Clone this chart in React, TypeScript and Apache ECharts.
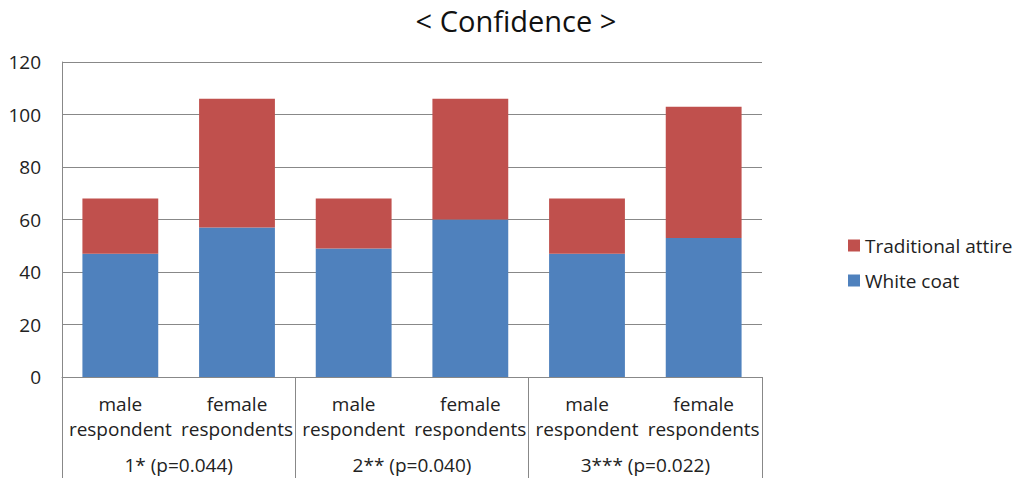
import React, { useEffect, useRef } from "react";
import * as echarts from "echarts";

const categories = [
  "male\nrespondent",
  "female\nrespondents",
  "male\nrespondent",
  "female\nrespondents",
  "male\nrespondent",
  "female\nrespondents",
];
const groups = ["1* (p=0.044)", "2** (p=0.040)", "3*** (p=0.022)"];
const whiteCoat = [47, 57, 49, 60, 47, 53];
const traditionalAttire = [21, 49, 19, 46, 21, 50];
const yTicks = { min: 0, max: 120, interval: 20 };

const FONT = "'Open Sans', Lato, sans-serif";

export default function App() {
  const ref = useRef<HTMLDivElement>(null);
  useEffect(() => {
    document.body.style.margin = "0";
    const chart = echarts.init(ref.current!, undefined, { renderer: "svg" });
    chart.setOption({
      animation: false,
      backgroundColor: "#ffffff",
      title: {
        text: "< Confidence >",
        left: 511,
        textAlign: "center",
        top: 1,
        textStyle: { fontFamily: FONT, fontSize: 29, fontWeight: "normal", color: "#111" },
      },
      legend: {
        data: ["Traditional attire", "White coat"],
        orient: "vertical",
        left: 843,
        top: 231,
        itemWidth: 12,
        itemHeight: 12,
        itemGap: 16,
        icon: "rect",
        textStyle: { fontFamily: FONT, fontSize: 19, color: "#222" },
      },
      grid: { left: 62, right: 258, top: 62, bottom: 101, containLabel: false },
      xAxis: [
        {
          type: "category",
          data: categories,
          axisLine: { show: true, lineStyle: { color: "#888", width: 1 } },
          axisTick: { show: false },
          axisLabel: {
            interval: 0,
            margin: 14,
            lineHeight: 25,
            fontFamily: FONT,
            fontSize: 19,
            color: "#222",
          },
        },
        {
          type: "category",
          data: groups,
          position: "bottom",
          axisLine: { show: false },
          axisTick: { show: true, length: 110, lineStyle: { color: "#888", width: 1 } },
          axisLabel: {
            interval: 0,
            margin: 78,
            fontFamily: FONT,
            fontSize: 19,
            color: "#222",
          },
        },
      ],
      yAxis: {
        type: "value",
        min: yTicks.min,
        max: yTicks.max,
        interval: yTicks.interval,
        axisLine: { show: true, lineStyle: { color: "#888", width: 1 } },
        axisTick: { show: false },
        splitLine: { lineStyle: { color: "#888", width: 1 } },
        axisLabel: { fontFamily: FONT, fontSize: 19, color: "#222", margin: 21 },
      },
      series: [
        {
          name: "White coat",
          type: "bar",
          stack: "total",
          xAxisIndex: 0,
          data: whiteCoat,
          barCategoryGap: "35%",
          itemStyle: { color: "#4F81BD" },
        },
        {
          name: "Traditional attire",
          type: "bar",
          stack: "total",
          xAxisIndex: 0,
          data: traditionalAttire,
          barCategoryGap: "35%",
          itemStyle: { color: "#C0504D" },
        },
      ],
    });
    return () => chart.dispose();
  }, []);
  return (
    <div
      ref={ref}
      style={{ position: "absolute", left: 0, top: 0, width: 1020, height: 478 }}
    />
  );
}
